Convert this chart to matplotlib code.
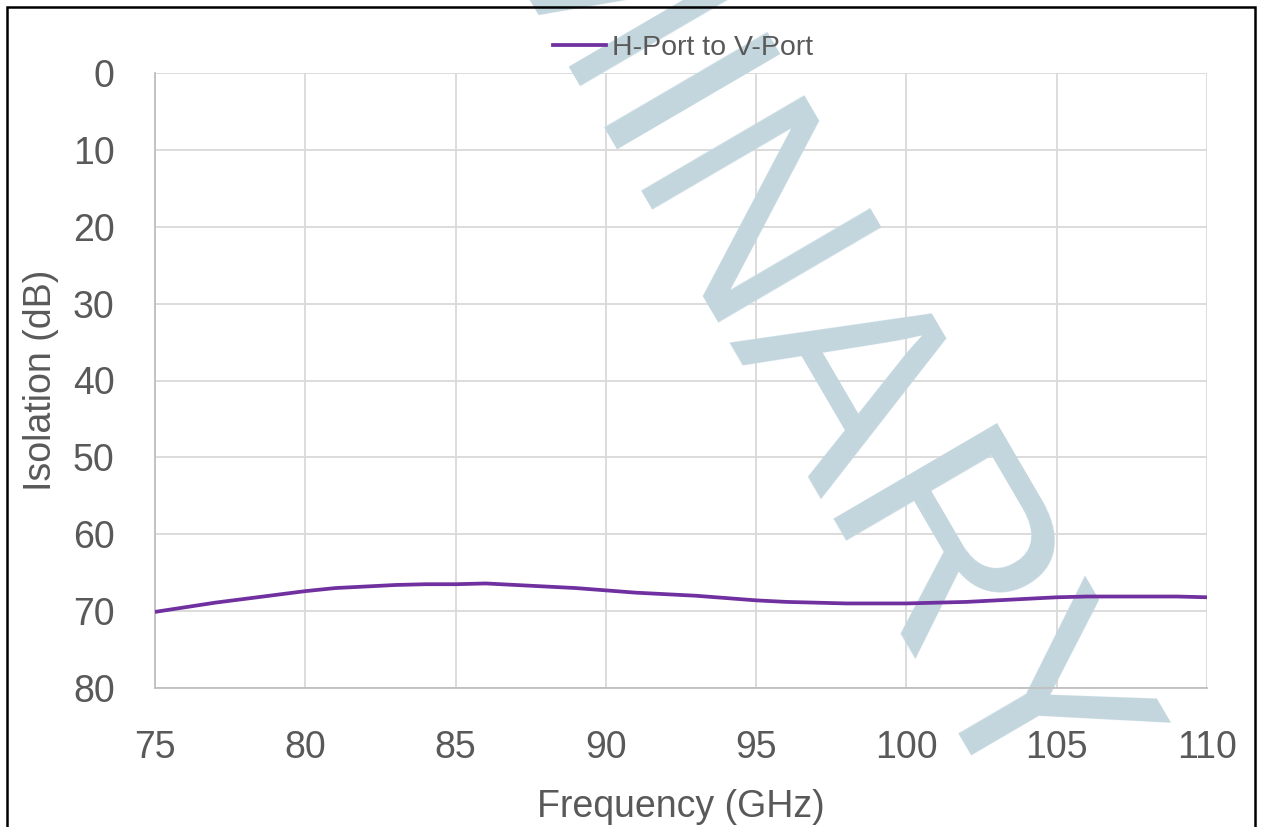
import matplotlib

matplotlib.use("Agg")
import matplotlib.pyplot as plt
from matplotlib.patches import Rectangle

# data
freq_ghz = [75, 76, 77, 78, 79, 80, 81, 82, 83, 84, 85, 86, 87, 88, 89, 90, 91, 92,
            93, 94, 95, 96, 97, 98, 99, 100, 101, 102, 103, 104, 105, 106, 107, 108, 109, 110]
isolation_db = [70.1, 69.5, 68.9, 68.4, 67.9, 67.4, 67.0, 66.8, 66.6, 66.5, 66.5, 66.4,
                66.6, 66.8, 67.0, 67.3, 67.6, 67.8, 68.0, 68.3, 68.6, 68.8, 68.9, 69.0,
                69.0, 69.0, 68.9, 68.8, 68.6, 68.4, 68.2, 68.1, 68.1, 68.1, 68.1, 68.2]
series_label = "H-Port to V-Port"
x_ticks = [75, 80, 85, 90, 95, 100, 105, 110]
y_ticks = [0, 10, 20, 30, 40, 50, 60, 70, 80]
watermark = "PRELIMINARY"

TEXT = "#595959"
GRID = "#d9d9d9"
PURPLE = "#7030a0"
WM = "#c3d6de"

W, H = 1261, 827
plt.rcParams["font.family"] = ["Liberation Sans", "DejaVu Sans"]

fig = plt.figure(figsize=(W / 100, H / 100), dpi=100)
ax = fig.add_axes([155 / W, 1 - 688 / H, (1207 - 155) / W, (688 - 73) / H])

ax.plot(freq_ghz, isolation_db, color=PURPLE, linewidth=2.7, label=series_label, zorder=3)

ax.set_xlim(75, 110)
ax.set_ylim(80, 0)
ax.set_xticks(x_ticks)
ax.set_yticks(y_ticks)
ax.grid(True, color=GRID, linewidth=1.3, zorder=1)
ax.set_axisbelow(True)
ax.tick_params(length=0, labelsize=27, labelcolor=TEXT)
ax.tick_params(axis="x", pad=30)
ax.tick_params(axis="y", pad=29)
for side in ("top", "right"):
    ax.spines[side].set_visible(False)
for side in ("left", "bottom"):
    ax.spines[side].set_color("#bfbfbf")
    ax.spines[side].set_linewidth(1.3)

ax.set_xlabel("Frequency (GHz)", fontsize=27, color=TEXT, labelpad=17)
ax.set_ylabel("Isolation (dB)", fontsize=27, color=TEXT, labelpad=10)

# watermark sits above the grid but under the data line
ax.text(1000 / W, 1 - 842 / H, watermark, transform=fig.transFigure, rotation=-59.7,
        rotation_mode="anchor", ha="right", va="baseline", fontsize=197,
        color=WM, zorder=2, clip_on=False)

fig.legend(loc="center", bbox_to_anchor=(683 / W, 1 - 48 / H), frameon=False,
           fontsize=20.5, labelcolor=TEXT, handlelength=1.85, handletextpad=0.2)

# outer border of the pasted chart
fig.patches.append(Rectangle((7 / W, -0.05), (1255 - 7) / W, 1.05 - 7 / H,
                             transform=fig.transFigure, fill=False,
                             edgecolor="black", linewidth=1.8))

fig.savefig("out.png", dpi=100)
